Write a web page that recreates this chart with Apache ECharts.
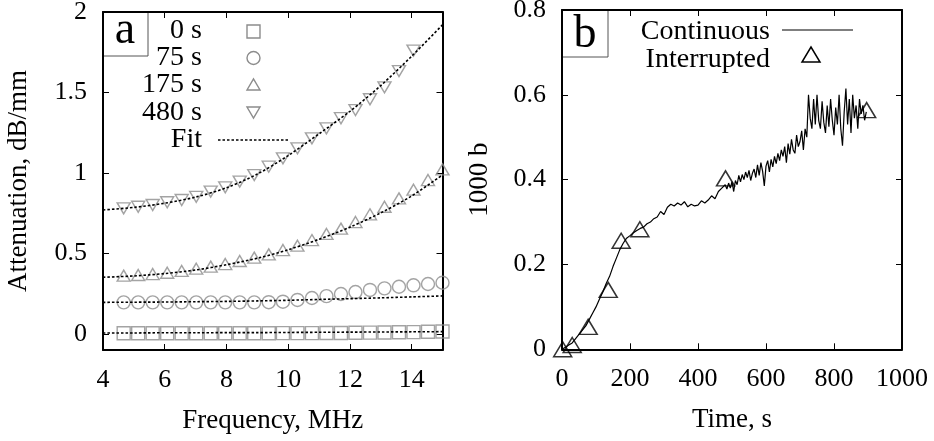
<!DOCTYPE html>
<html><head><meta charset="utf-8">
<script src="https://cdn.jsdelivr.net/npm/echarts@6/dist/echarts.min.js"></script>
<style>html,body{margin:0;padding:0;background:#fff}#c{width:934px;height:441px}</style>
</head><body><div id="c"></div><script>
// ---- Panel a data ----
const freq = [4.67, 5.14, 5.61, 6.08, 6.55, 7.02, 7.49, 7.96, 8.43, 8.90, 9.37, 9.83, 10.30, 10.77, 11.24, 11.71, 12.18, 12.65, 13.12, 13.59, 14.06, 14.53, 15.00];
const att0s = [0.004, 0.004, 0.004, 0.004, 0.004, 0.004, 0.004, 0.004, 0.004, 0.004, 0.004, 0.005, 0.005, 0.005, 0.006, 0.006, 0.007, 0.008, 0.009, 0.010, 0.011, 0.013, 0.015];
const att75s = [0.196, 0.196, 0.196, 0.196, 0.196, 0.196, 0.196, 0.196, 0.196, 0.196, 0.197, 0.200, 0.211, 0.223, 0.235, 0.248, 0.260, 0.273, 0.283, 0.293, 0.302, 0.310, 0.318];
const att175s = [0.362, 0.366, 0.372, 0.380, 0.391, 0.405, 0.418, 0.434, 0.453, 0.474, 0.494, 0.521, 0.548, 0.583, 0.621, 0.654, 0.695, 0.743, 0.790, 0.842, 0.896, 0.956, 1.022];
const att480s = [0.780, 0.790, 0.801, 0.818, 0.832, 0.852, 0.884, 0.911, 0.946, 0.987, 1.039, 1.091, 1.153, 1.215, 1.277, 1.340, 1.391, 1.458, 1.532, 1.633, 1.760];
const fitFreq = [4, 5, 6, 7, 8, 9, 10, 11, 12, 13, 14, 15];
const fit0s = [0.006, 0.006, 0.007, 0.007, 0.008, 0.008, 0.009, 0.010, 0.011, 0.012, 0.013, 0.014];
const fit75s = [0.196, 0.197, 0.198, 0.200, 0.202, 0.205, 0.209, 0.214, 0.219, 0.224, 0.230, 0.236];
const fit175s = [0.352, 0.360, 0.375, 0.397, 0.430, 0.470, 0.523, 0.588, 0.663, 0.752, 0.857, 0.988];
const fit480s = [0.770, 0.786, 0.812, 0.850, 0.908, 0.993, 1.108, 1.243, 1.383, 1.543, 1.725, 1.920];
const yTicksA = [0, 0.5, 1, 1.5, 2];

// ---- Panel b data ----
const contTime = [0,10,20,30,40,50,60,70,80,90,100,110,120,130,140,150,160,170,180,190,200,210,220,230,240,250,260,270,280,290,300,310,320,330,340,350,360,370,380,390,400,410,420,430,440,450,460,470,480,
485,490,495,500,505,510,515,520,525,530,535,540,545,550,555,560,565,570,575,580,585,590,595,600,605,610,615,620,625,630,635,640,645,650,655,660,665,670,675,680,685,690,695,700,705,710,715,720,725,730,735,740,745,750,755,760,765,770,775,780,785,790,795,800,805,810,815,820,825,830,835,840,845,850,855,860,865,870,875,880,885,890,895];
const contB = [0.000,0.005,0.010,0.015,0.025,0.035,0.045,0.055,0.070,0.085,0.100,0.118,0.135,0.155,0.172,0.195,0.215,0.235,0.250,0.262,0.268,0.275,0.280,0.285,0.288,0.296,0.300,0.308,0.312,0.325,0.318,0.335,0.342,0.338,0.345,0.340,0.348,0.336,0.342,0.338,0.340,0.350,0.345,0.352,0.362,0.355,0.372,0.380,0.388,
0.378,0.392,0.380,0.395,0.372,0.398,0.388,0.410,0.395,0.412,0.400,0.418,0.405,0.422,0.398,0.415,0.425,0.405,0.435,0.410,0.440,0.420,0.385,0.432,0.445,0.418,0.448,0.430,0.455,0.438,0.462,0.445,0.470,0.455,0.478,0.440,0.485,0.460,0.495,0.470,0.462,0.505,0.478,0.490,0.515,0.470,0.520,0.500,0.600,0.545,0.520,0.590,0.530,0.600,0.540,0.520,0.585,0.535,0.510,0.575,0.525,0.590,0.540,0.505,0.570,0.530,0.600,0.520,0.480,0.560,0.615,0.530,0.590,0.510,0.600,0.545,0.575,0.520,0.590,0.555,0.575,0.540,0.560,0.510,0.545];
const intTime = [2, 30, 77, 136, 174, 229, 481, 896];
const intB = [0.000, 0.010, 0.053, 0.140, 0.256, 0.283, 0.403, 0.564];

const F = 'Liberation Serif';
const zip = (a, b) => a.map((v, i) => [v, b[i]]);
const tickFont = 26, nameFont = 27, legFont = 28;
const axisLine = {show: true, onZero: false, lineStyle: {color: '#000', width: 2}};
const tick = {show: true, inside: true, length: 6, lineStyle: {color: '#000', width: 1}};

function xAxis(grid, min, max, interval, mirror, name) {
  return {
    type: 'value', gridIndex: grid, min, max, interval,
    position: mirror ? 'top' : 'bottom',
    axisLine, axisTick: tick, splitLine: {show: false},
    axisLabel: {show: !mirror, color: '#000', fontFamily: F, fontSize: tickFont, margin: 17, showMaxLabel: grid === 0 ? false : true,
      formatter: v => String(v)},
    name: mirror ? '' : name, nameLocation: 'middle', nameGap: 57,
    nameTextStyle: {color: '#000', fontFamily: F, fontSize: nameFont}
  };
}
function yAxis(grid, min, max, extra, mirror, name, gap) {
  return Object.assign({
    type: 'value', gridIndex: grid, min, max,
    position: mirror ? 'right' : 'left',
    axisLine, axisTick: Object.assign({}, tick), splitLine: {show: false},
    axisLabel: {show: !mirror, color: '#000', fontFamily: F, fontSize: tickFont, margin: 16, formatter: v => String(v)},
    name: mirror ? '' : name, nameLocation: 'middle', nameGap: gap,
    nameTextStyle: {color: '#000', fontFamily: F, fontSize: nameFont}
  }, extra);
}

const ya = {axisTick: Object.assign({}, tick, {customValues: yTicksA}), axisLabel: {color: '#000', fontFamily: F, fontSize: tickFont, margin: 16, customValues: yTicksA}};
const yaM = {axisTick: Object.assign({}, tick, {customValues: yTicksA}), axisLabel: {show: false}};

const gray = '#8c8c8c';
function sc(name, data, symbol, size, rot) {
  return {type: 'scatter', name, xAxisIndex: 0, yAxisIndex: 0, data, symbol, symbolSize: size, symbolRotate: rot || 0, clip: false,
    itemStyle: {color: 'rgba(0,0,0,0)', borderColor: gray, borderWidth: 1.4}, z: 3};
}
function fit(data) {
  return {type: 'line', xAxisIndex: 0, yAxisIndex: 0, data, smooth: 0.3, showSymbol: false, symbol: 'none',
    lineStyle: {color: '#000', width: 1.6, type: [2.5, 2]}, z: 4};
}

const legA = [['0 s', 31], ['75 s', 58], ['175 s', 85], ['480 s', 113], ['Fit', 140]];
const graphics = [];
legA.forEach(([t, y]) => graphics.push({type: 'text', x: 202, y, style: {text: t, font: legFont + 'px "' + F + '"', fill: '#000', textAlign: 'right', textVerticalAlign: 'middle'}}));
const gs = {fill: 'none', stroke: gray, lineWidth: 1.4};
graphics.push({type: 'rect', shape: {x: 247, y: 25, width: 13, height: 13}, style: gs});
graphics.push({type: 'circle', shape: {cx: 253.5, cy: 58, r: 6.5}, style: gs});
graphics.push({type: 'polygon', shape: {points: [[247, 90], [260, 90], [253.5, 79]]}, style: gs});
graphics.push({type: 'polygon', shape: {points: [[247, 107], [260, 107], [253.5, 118]]}, style: gs});
graphics.push({type: 'line', shape: {x1: 218, y1: 140, x2: 288, y2: 140}, style: {stroke: '#000', lineWidth: 1.6, lineDash: [2.5, 2]}});
graphics.push({type: 'rect', shape: {x: 103, y: 12, width: 45, height: 44}, style: {fill: 'none', stroke: '#555', lineWidth: 1}});
graphics.push({type: 'text', x: 125, y: 31, style: {text: 'a', font: '46px "' + F + '"', fill: '#000', textAlign: 'center', textVerticalAlign: 'middle'}});
graphics.push({type: 'rect', shape: {x: 562, y: 10, width: 46, height: 47}, style: {fill: 'none', stroke: '#555', lineWidth: 1}});
graphics.push({type: 'text', x: 585, y: 35, style: {text: 'b', font: '46px "' + F + '"', fill: '#000', textAlign: 'center', textVerticalAlign: 'middle'}});
graphics.push({type: 'text', x: 770, y: 32, style: {text: 'Continuous', font: legFont + 'px "' + F + '"', fill: '#000', textAlign: 'right', textVerticalAlign: 'middle'}});
graphics.push({type: 'text', x: 770, y: 60, style: {text: 'Interrupted', font: legFont + 'px "' + F + '"', fill: '#000', textAlign: 'right', textVerticalAlign: 'middle'}});
graphics.push({type: 'line', shape: {x1: 782, y1: 30, x2: 853, y2: 30}, style: {stroke: '#000', lineWidth: 1.2}});
graphics.push({type: 'polygon', shape: {points: [[802, 62], [820, 62], [811, 47]]}, style: {fill: 'none', stroke: '#000', lineWidth: 1.5}});

const option = {
  backgroundColor: '#fff',
  animation: false,
  grid: [
    {left: 103, top: 12, width: 339.5, height: 338, outerBoundsMode: 'none'},
    {left: 562, top: 10, width: 340, height: 339.3, outerBoundsMode: 'none'}
  ],
  xAxis: [
    xAxis(0, 4, 15, 2, false, 'Frequency, MHz'),
    xAxis(0, 4, 15, 2, true, ''),
    xAxis(1, 0, 1000, 200, false, 'Time, s'),
    xAxis(1, 0, 1000, 200, true, '')
  ],
  yAxis: [
    yAxis(0, -0.1, 2, ya, false, 'Attenuation, dB/mm', 71),
    yAxis(0, -0.1, 2, yaM, true, '', 0),
    yAxis(1, 0, 0.8, {interval: 0.2}, false, '1000 b', 69),
    yAxis(1, 0, 0.8, {interval: 0.2}, true, '', 0)
  ],
  graphic: graphics,
  series: [
    fit(zip(fitFreq, fit0s)),
    fit(zip(fitFreq, fit75s)),
    fit(zip(fitFreq, fit175s)),
    fit(zip(fitFreq, fit480s)),
    sc('0 s', zip(freq, att0s), 'rect', 13),
    sc('75 s', zip(freq, att75s), 'circle', 13),
    sc('175 s', zip(freq, att175s), 'triangle', [13, 11]),
    sc('480 s', zip(freq.slice(0, att480s.length), att480s), 'triangle', [13, 11], 180),
    {type: 'line', name: 'Continuous', xAxisIndex: 2, yAxisIndex: 2, data: zip(contTime, contB), showSymbol: false, symbol: 'none',
      lineStyle: {color: '#000', width: 1.2}, z: 3},
    {type: 'scatter', name: 'Interrupted', xAxisIndex: 2, yAxisIndex: 2, data: zip(intTime, intB), symbol: 'triangle', symbolSize: [18, 15], clip: false,
      itemStyle: {color: 'rgba(0,0,0,0)', borderColor: '#000', borderWidth: 1.5}, z: 4}
  ]
};
const chart = echarts.init(document.getElementById('c'), null, {renderer: 'canvas'});
chart.setOption(option);
</script></body></html>
